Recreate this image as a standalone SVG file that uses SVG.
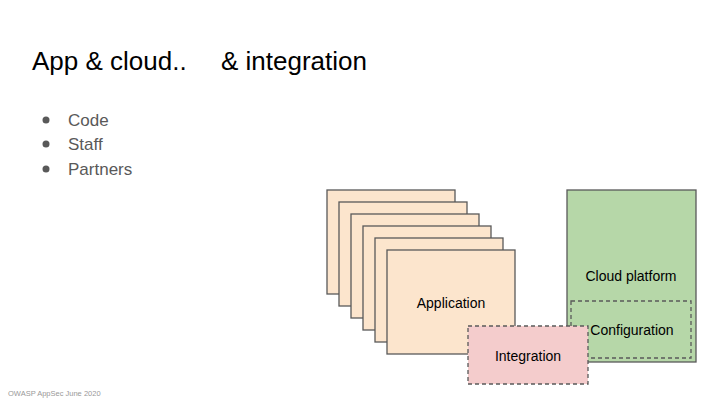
<svg xmlns="http://www.w3.org/2000/svg" width="720" height="405" viewBox="0 0 720 405">
<style>
text{font-family:"Liberation Sans",Arial,sans-serif;fill:#000}
.app{fill:#fce5cd;stroke:#595959;stroke-width:1.3}
.lbl{font-size:14px;text-anchor:middle}
.b{font-size:17px;fill:#595959}
</style>
<rect width="720" height="405" fill="#fff"/>
<text x="32" y="70" font-size="26">App &amp; cloud..</text>
<text x="221" y="70" font-size="26">&amp; integration</text>
<g id="bullets">
<circle cx="46" cy="120" r="3.5" fill="#595959"/>
<text class="b" x="68" y="126">Code</text>
<circle cx="46" cy="144" r="3.5" fill="#595959"/>
<text class="b" x="68" y="150">Staff</text>
<circle cx="46" cy="169" r="3.5" fill="#595959"/>
<text class="b" x="68" y="175">Partners</text>
</g>
<g id="apps">
<rect class="app" x="327" y="190" width="128" height="104"/>
<rect class="app" x="339" y="202" width="128" height="104"/>
<rect class="app" x="351" y="214" width="128" height="104"/>
<rect class="app" x="363" y="226" width="128" height="104"/>
<rect class="app" x="375" y="238" width="128" height="104"/>
</g>
<g id="application">
<rect class="app" x="387" y="250" width="128" height="104"/>
<text class="lbl" x="451" y="308">Application</text>
</g>
<g id="cloud">
<rect x="567" y="190" width="129" height="172" fill="#b6d7a8" stroke="#595959" stroke-width="1.3"/>
<text class="lbl" x="631" y="281">Cloud platform</text>
</g>
<g id="configuration">
<rect x="571" y="301" width="120" height="57" fill="none" stroke="#595959" stroke-width="1.3" stroke-dasharray="4,3"/>
<text class="lbl" x="632" y="335">Configuration</text>
</g>
<g id="integration">
<rect x="468" y="326" width="120" height="58" fill="#f4cccc" stroke="#595959" stroke-width="1.3" stroke-dasharray="4,3"/>
<text class="lbl" x="528" y="361">Integration</text>
</g>
<g id="connectors"/>
<text x="8" y="396" font-size="7.5" style="fill:#999">OWASP AppSec June 2020</text>
</svg>
